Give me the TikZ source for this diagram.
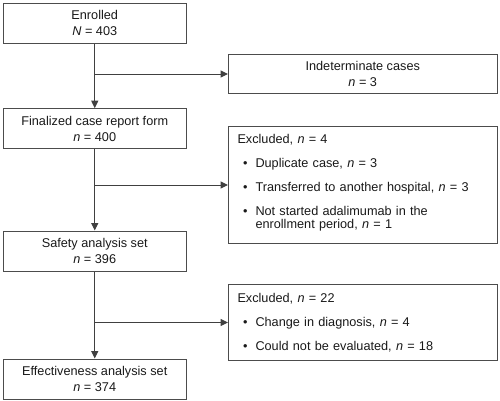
\documentclass[tikz,border=0pt]{standalone}
\usepackage{fontspec}
\setmainfont{Liberation Sans}
\usetikzlibrary{arrows.meta,positioning}
\tikzstyle{stage} = [rectangle, minimum width=182.5pt, minimum height=40pt, inner sep=2pt, align=center, draw=black!70, line width=1pt, text=black!90, font=\fontsize{12.7pt}{15.7pt}\selectfont]
\tikzstyle{excl} = [rectangle, minimum width=268.5pt, text width=250.5pt, inner xsep=9pt, inner ysep=8.3pt, draw=black!70, line width=1pt, text=black!90, font=\fontsize{12.7pt}{13.3pt}\selectfont\raggedright]
\tikzstyle{arrow} = [line width=1pt, draw=black!75, -{Triangle[length=7.5pt,width=7pt]}]
\newcommand{\nn}{\textit{n}}
\newcommand{\exitem}[1]{\par\vspace{10.5pt}\hangindent=18pt\hangafter=1\noindent\makebox[18pt][l]{\hspace{5.5pt}\textbullet}#1\par}

\begin{document}
\begin{tikzpicture}
\useasboundingbox (0,0) rectangle (500pt,-400pt);
\node (enr) [stage] at (94.75pt,-23pt) {Enrolled\\\textit{N} = 403};
\node (fin) [stage, below=64.7pt of enr] {Finalized case report form\\\nn{} = 400};
\node (saf) [stage, below=81.3pt of fin] {Safety analysis set\\\nn{} = 396};
\node (eff) [stage, below=87pt of saf] {Effectiveness analysis set\\\nn{} = 374};
%\node (ind) [stage, right of=enr] {};
\node (ind) [stage, minimum width=268.5pt, minimum height=39pt, right=41.5pt of enr.east, yshift=-51pt] {Indeterminate cases\\\nn{} = 3};
\node (exc1) [excl, right=41.5pt of fin.east, yshift=-56.3pt] {\noindent Excluded, \nn{} = 4
  \exitem{Duplicate case, \nn{} = 3}
  \exitem{Transferred to another hospital, \nn{} = 3}
  \exitem{Not started adalimumab in the\newline enrollment period, \nn{} = 1\rule[-7.2pt]{0pt}{7.2pt}}};
\node (exc2) [excl, right=41.5pt of saf.east, yshift=-71.5pt] {\noindent Excluded, \nn{} = 22
  \exitem{Change in diagnosis, \nn{} = 4}
  \exitem{Could not be evaluated, \nn{} = 18}};

\draw [arrow] (enr) -- (fin);
\draw [arrow] (enr.south |- ind.west) -- (ind.west);
\draw [arrow] (fin) -- (saf);
\draw [arrow] (fin.south |- exc1.west) -- (exc1.west);
\draw [arrow] (saf) -- (eff);
\draw [arrow] (saf.south |- exc2.west) -- (exc2.west);
\end{tikzpicture}
\end{document}
